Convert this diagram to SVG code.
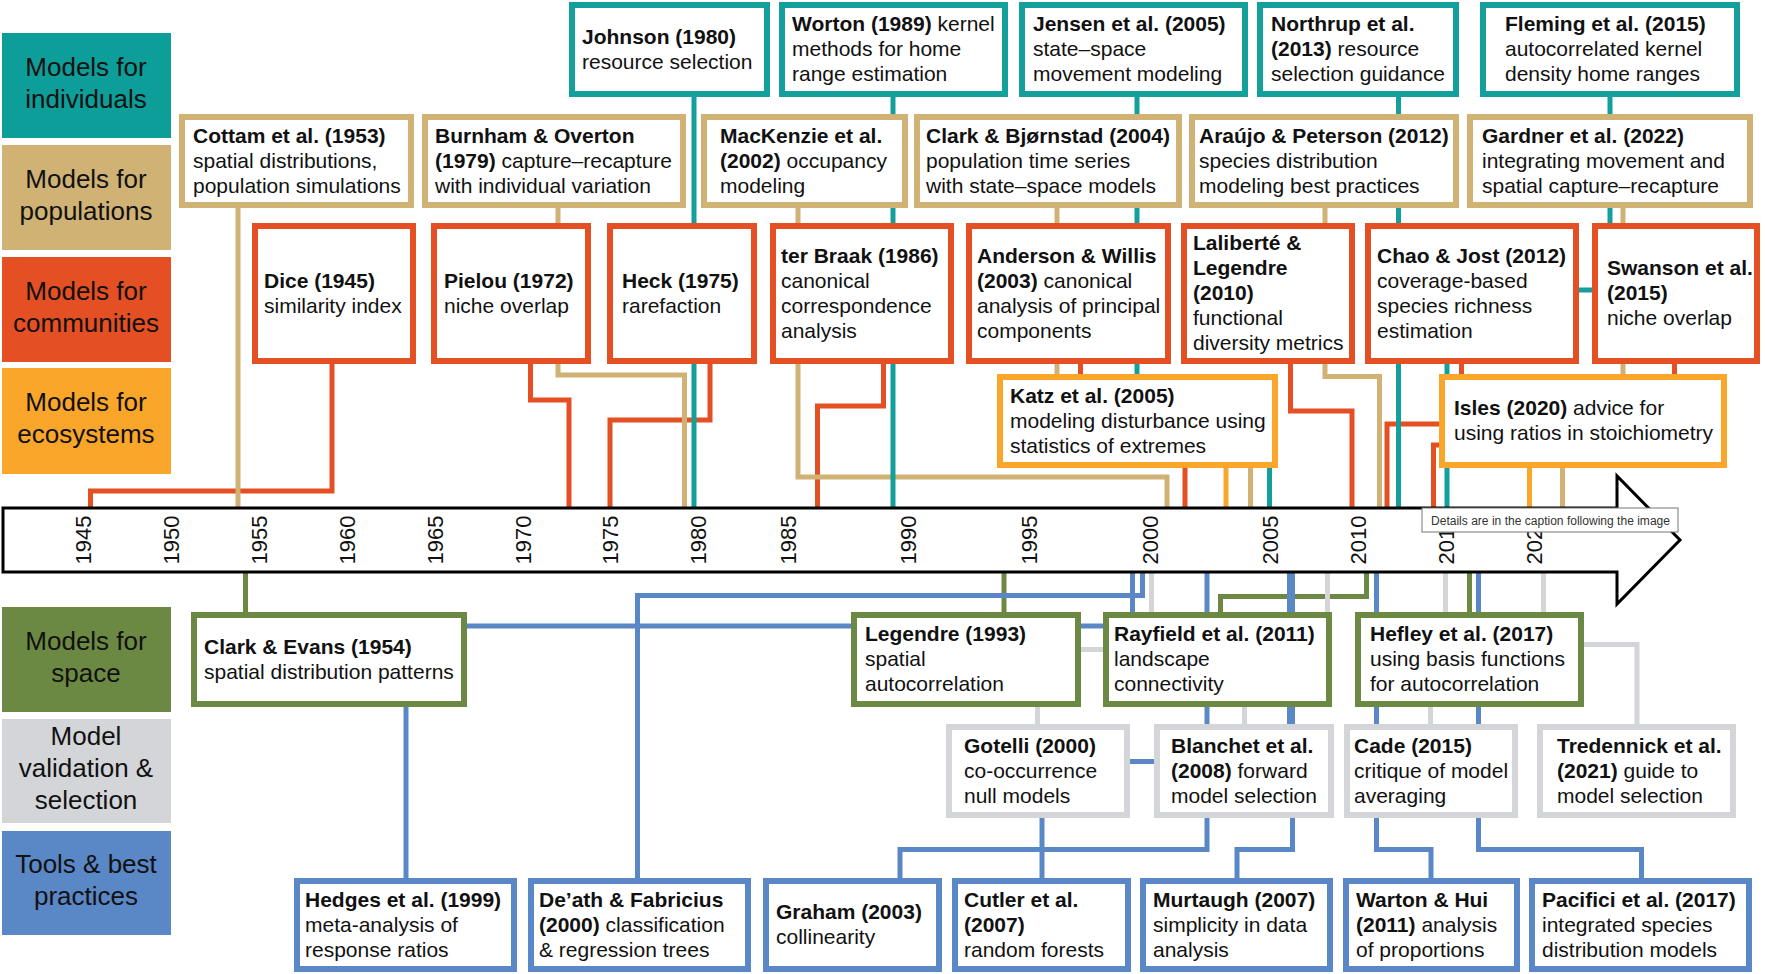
<svg xmlns="http://www.w3.org/2000/svg" width="1765" height="974" viewBox="0 0 1765 974">
<style>
text { font-family: "Liberation Sans", Arial, Helvetica, sans-serif; fill: #111; }
.t { font-size: 21px; }
.b { font-weight: bold; }
.lg { font-size: 26px; text-anchor: middle; }
.yr { font-size: 22px; text-anchor: middle; }
.n rect { fill: #fff; stroke-width: 6; }
.teal rect { stroke: #13A09C; }
.tan rect { stroke: #CFB274; }
.red rect { stroke: #E44F23; }
.org rect { stroke: #F9A62B; }
.grn rect { stroke: #6C8943; }
.gry rect { stroke: #D4D5D9; }
.blu rect { stroke: #5A87C5; }
#connectors path { fill: none; stroke-width: 5; stroke-linejoin: miter; }
.kteal { stroke: #13A09C; }
.ktan { stroke: #CFB274; }
.kred { stroke: #E44F23; }
.korg { stroke: #F9A62B; }
.kgrn { stroke: #6C8943; }
.kgry { stroke: #D4D5D9; }
.kblu { stroke: #5A87C5; }
</style>
<rect x="0" y="0" width="1765" height="974" fill="#fff"/>

<g id="legend">
  <g id="leg-individuals"><rect x="2" y="33" width="169" height="105" fill="#0E9E9A"/><text class="lg"><tspan x="86" y="75.5">Models for</tspan><tspan x="86" y="107.5">individuals</tspan></text></g>
  <g id="leg-populations"><rect x="2" y="145" width="169" height="105" fill="#CFB274"/><text class="lg"><tspan x="86" y="187.5">Models for</tspan><tspan x="86" y="219.5">populations</tspan></text></g>
  <g id="leg-communities"><rect x="2" y="257" width="169" height="105" fill="#E44F23"/><text class="lg"><tspan x="86" y="299.5">Models for</tspan><tspan x="86" y="331.5">communities</tspan></text></g>
  <g id="leg-ecosystems"><rect x="2" y="368" width="169" height="106" fill="#F9A62B"/><text class="lg"><tspan x="86" y="411">Models for</tspan><tspan x="86" y="443">ecosystems</tspan></text></g>
  <g id="leg-space"><rect x="2" y="607" width="169" height="105" fill="#6C8943"/><text class="lg"><tspan x="86" y="649.5">Models for</tspan><tspan x="86" y="681.5">space</tspan></text></g>
  <g id="leg-validation"><rect x="2" y="719" width="169" height="104" fill="#D4D5D9"/><text class="lg"><tspan x="86" y="745">Model</tspan><tspan x="86" y="777">validation &amp;</tspan><tspan x="86" y="809">selection</tspan></text></g>
  <g id="leg-tools"><rect x="2" y="831" width="169" height="104" fill="#5A87C5"/><text class="lg"><tspan x="86" y="873">Tools &amp; best</tspan><tspan x="86" y="905">practices</tspan></text></g>
</g>

<g id="connectors">
  <path class="kred" d="M332 364 V491 H90.5 V508"/>
  <path class="kred" d="M530.5 364 V400 H569 V508"/>
  <path class="kred" d="M710 364 V420 H610 V508"/>
  <path class="kred" d="M883.5 364 V406 H817.5 V508"/>
  <path class="kred" d="M1080.5 364 V440 H1185 V508"/>
  <path class="kred" d="M1290.5 364 V411 H1352 V508"/>
  <path class="kred" d="M1461.5 364 V424 H1387 V508"/>
  <path class="kred" d="M1674.5 364 V445 H1433.5 V508"/>
  <path class="ktan" d="M238 208 V508"/>
  <path class="ktan" d="M558 208 V375 H684.5 V508"/>
  <path class="ktan" d="M798 208 V477 H1167 V508"/>
  <path class="ktan" d="M1057 208 V425 H1250.5 V508"/>
  <path class="ktan" d="M1325 208 V376.5 H1379.5 V508"/>
  <path class="ktan" d="M1623 208 V420 H1562.5 V508"/>
  <path class="kteal" d="M694 97 V508"/>
  <path class="kteal" d="M893 97 V508"/>
  <path class="kteal" d="M1137 97 V410 H1269.5 V508"/>
  <path class="kteal" d="M1398.5 97 V508"/>
  <path class="kteal" d="M1610 97 V290 H1447 V508"/>
  <path class="korg" d="M1226 468 V508"/>
  <path class="korg" d="M1529.5 468 V508"/>
  <path class="kgrn" d="M245.5 572 V612"/>
  <path class="kgrn" d="M1004 572 V612"/>
  <path class="kgrn" d="M1366.5 572 V596.5 H1220.5 V612"/>
  <path class="kgrn" d="M1469.5 572 V612"/>
  <path class="kgry" d="M1151.5 572 V649.5 H1037.5 V724"/>
  <path class="kgry" d="M1327.5 572 V680 H1244.5 V724"/>
  <path class="kgry" d="M1445.5 572 V660 H1430.5 V724"/>
  <path class="kgry" d="M1543.5 572 V644.5 H1637 V724"/>
  <path class="kblu" d="M1132.5 572 V626 H406 V878"/>
  <path class="kblu" d="M1142.5 572 V595.5 H637.5 V878"/>
  <path class="kblu" d="M1207 572 V849.5 H900 V878"/>
  <path class="kblu" d="M1289.5 572 V761.5 H1042 V878"/>
  <path class="kblu" d="M1292.5 572 V849.5 H1237 V878"/>
  <path class="kblu" d="M1376.5 572 V849.5 H1431 V878"/>
  <path class="kblu" d="M1478.5 572 V849.5 H1641.5 V878"/>
</g>

<g id="timeline">
  <polygon points="3,508 1617,508 1617,476 1680,540 1617,604 1617,572 3,572" fill="#fff" stroke="#000" stroke-width="3"/>
  <g class="yr">
    <text class="yr" transform="translate(91,540) rotate(-90)">1945</text>
    <text class="yr" transform="translate(179,540) rotate(-90)">1950</text>
    <text class="yr" transform="translate(267,540) rotate(-90)">1955</text>
    <text class="yr" transform="translate(355,540) rotate(-90)">1960</text>
    <text class="yr" transform="translate(443,540) rotate(-90)">1965</text>
    <text class="yr" transform="translate(531,540) rotate(-90)">1970</text>
    <text class="yr" transform="translate(618,540) rotate(-90)">1975</text>
    <text class="yr" transform="translate(706,540) rotate(-90)">1980</text>
    <text class="yr" transform="translate(796,540) rotate(-90)">1985</text>
    <text class="yr" transform="translate(916,540) rotate(-90)">1990</text>
    <text class="yr" transform="translate(1037,540) rotate(-90)">1995</text>
    <text class="yr" transform="translate(1158,540) rotate(-90)">2000</text>
    <text class="yr" transform="translate(1278,540) rotate(-90)">2005</text>
    <text class="yr" transform="translate(1366,540) rotate(-90)">2010</text>
    <text class="yr" transform="translate(1454,540) rotate(-90)">2015</text>
    <text class="yr" transform="translate(1542,540) rotate(-90)">2020</text>
  </g>
  <g id="tooltip">
    <rect x="1422" y="508" width="256" height="24" fill="#fff" stroke="#767676" stroke-width="1"/>
    <text x="1431" y="525" font-size="12" textLength="239" lengthAdjust="spacingAndGlyphs" style="fill:#333">Details are in the caption following the image</text>
  </g>
</g>

<!-- individuals -->
<g id="johnson" class="n teal"><rect x="572" y="5" width="195" height="89"/><text class="t"><tspan x="582" y="43.5" class="b">Johnson (1980)</tspan><tspan x="582" y="68.5">resource selection</tspan></text></g>
<g id="worton" class="n teal"><rect x="782" y="5" width="223" height="89"/><text class="t"><tspan x="792" y="31"><tspan class="b">Worton (1989)</tspan> kernel</tspan><tspan x="792" y="56">methods for home</tspan><tspan x="792" y="81">range estimation</tspan></text></g>
<g id="jensen" class="n teal"><rect x="1022" y="5" width="223" height="89"/><text class="t"><tspan x="1033" y="31" class="b">Jensen et al. (2005)</tspan><tspan x="1033" y="56">state–space</tspan><tspan x="1033" y="81">movement modeling</tspan></text></g>
<g id="northrup" class="n teal"><rect x="1260" y="5" width="196" height="89"/><text class="t"><tspan x="1271" y="31" class="b">Northrup et al.</tspan><tspan x="1271" y="56"><tspan class="b">(2013)</tspan> resource</tspan><tspan x="1271" y="81">selection guidance</tspan></text></g>
<g id="fleming" class="n teal"><rect x="1483" y="5" width="254" height="89"/><text class="t"><tspan x="1505" y="31" class="b">Fleming et al. (2015)</tspan><tspan x="1505" y="56">autocorrelated kernel</tspan><tspan x="1505" y="81">density home ranges</tspan></text></g>

<!-- populations -->
<g id="cottam" class="n tan"><rect x="182" y="117" width="229" height="88"/><text class="t"><tspan x="193" y="142.5" class="b">Cottam et al. (1953)</tspan><tspan x="193" y="167.5">spatial distributions,</tspan><tspan x="193" y="192.5">population simulations</tspan></text></g>
<g id="burnham" class="n tan"><rect x="425" y="117" width="258" height="88"/><text class="t"><tspan x="435" y="142.5" class="b">Burnham &amp; Overton</tspan><tspan x="435" y="167.5"><tspan class="b">(1979)</tspan> capture–recapture</tspan><tspan x="435" y="192.5">with individual variation</tspan></text></g>
<g id="mackenzie" class="n tan"><rect x="704" y="117" width="201" height="88"/><text class="t"><tspan x="720" y="142.5" class="b">MacKenzie et al.</tspan><tspan x="720" y="167.5"><tspan class="b">(2002)</tspan> occupancy</tspan><tspan x="720" y="192.5">modeling</tspan></text></g>
<g id="clark-bjornstad" class="n tan"><rect x="917" y="117" width="262" height="88"/><text class="t"><tspan x="926" y="142.5" class="b">Clark &amp; Bjørnstad (2004)</tspan><tspan x="926" y="167.5">population time series</tspan><tspan x="926" y="192.5">with state–space models</tspan></text></g>
<g id="araujo" class="n tan"><rect x="1192" y="117" width="264" height="88"/><text class="t"><tspan x="1199" y="142.5" class="b">Araújo &amp; Peterson (2012)</tspan><tspan x="1199" y="167.5">species distribution</tspan><tspan x="1199" y="192.5">modeling best practices</tspan></text></g>
<g id="gardner" class="n tan"><rect x="1470" y="117" width="280" height="88"/><text class="t"><tspan x="1482" y="142.5" class="b">Gardner et al. (2022)</tspan><tspan x="1482" y="167.5">integrating movement and</tspan><tspan x="1482" y="192.5">spatial capture–recapture</tspan></text></g>

<!-- communities -->
<g id="dice" class="n red"><rect x="255" y="226" width="158" height="135"/><text class="t"><tspan x="264" y="287.5" class="b">Dice (1945)</tspan><tspan x="264" y="312.5">similarity index</tspan></text></g>
<g id="pielou" class="n red"><rect x="434" y="226" width="154" height="135"/><text class="t"><tspan x="444" y="287.5" class="b">Pielou (1972)</tspan><tspan x="444" y="312.5">niche overlap</tspan></text></g>
<g id="heck" class="n red"><rect x="610" y="226" width="144" height="135"/><text class="t"><tspan x="622" y="287.5" class="b">Heck (1975)</tspan><tspan x="622" y="312.5">rarefaction</tspan></text></g>
<g id="terbraak" class="n red"><rect x="773" y="226" width="178" height="135"/><text class="t"><tspan x="781" y="262.5" class="b">ter Braak (1986)</tspan><tspan x="781" y="287.5">canonical</tspan><tspan x="781" y="312.5">correspondence</tspan><tspan x="781" y="337.5">analysis</tspan></text></g>
<g id="anderson" class="n red"><rect x="969" y="226" width="199" height="135"/><text class="t"><tspan x="977" y="262.5" class="b">Anderson &amp; Willis</tspan><tspan x="977" y="287.5"><tspan class="b">(2003)</tspan> canonical</tspan><tspan x="977" y="312.5">analysis of principal</tspan><tspan x="977" y="337.5">components</tspan></text></g>
<g id="laliberte" class="n red"><rect x="1184" y="226" width="168" height="135"/><text class="t"><tspan x="1193" y="250" class="b">Laliberté &amp;</tspan><tspan x="1193" y="275" class="b">Legendre</tspan><tspan x="1193" y="300" class="b">(2010)</tspan><tspan x="1193" y="325">functional</tspan><tspan x="1193" y="350">diversity metrics</tspan></text></g>
<g id="chao" class="n red"><rect x="1368" y="226" width="208" height="135"/><text class="t"><tspan x="1377" y="262.5" class="b">Chao &amp; Jost (2012)</tspan><tspan x="1377" y="287.5">coverage-based</tspan><tspan x="1377" y="312.5">species richness</tspan><tspan x="1377" y="337.5">estimation</tspan></text></g>
<g id="swanson" class="n red"><rect x="1595" y="226" width="162" height="135"/><text class="t"><tspan x="1607" y="275" class="b">Swanson et al.</tspan><tspan x="1607" y="300" class="b">(2015)</tspan><tspan x="1607" y="325">niche overlap</tspan></text></g>

<!-- ecosystems -->
<g id="katz" class="n org"><rect x="1000" y="377" width="275" height="88"/><text class="t"><tspan x="1010" y="402.5" class="b">Katz et al. (2005)</tspan><tspan x="1010" y="427.5">modeling disturbance using</tspan><tspan x="1010" y="452.5">statistics of extremes</tspan></text></g>
<g id="isles" class="n org"><rect x="1442" y="377" width="282" height="88"/><text class="t"><tspan x="1454" y="415"><tspan class="b">Isles (2020)</tspan> advice for</tspan><tspan x="1454" y="440">using ratios in stoichiometry</tspan></text></g>

<!-- space -->
<g id="clark-evans" class="n grn"><rect x="194" y="615" width="270" height="89"/><text class="t"><tspan x="204" y="653.5" class="b">Clark &amp; Evans (1954)</tspan><tspan x="204" y="678.5">spatial distribution patterns</tspan></text></g>
<g id="legendre" class="n grn"><rect x="854" y="615" width="224" height="89"/><text class="t"><tspan x="865" y="641" class="b">Legendre (1993)</tspan><tspan x="865" y="666">spatial</tspan><tspan x="865" y="691">autocorrelation</tspan></text></g>
<g id="rayfield" class="n grn"><rect x="1106" y="615" width="223" height="89"/><text class="t"><tspan x="1114" y="641" class="b">Rayfield et al. (2011)</tspan><tspan x="1114" y="666">landscape</tspan><tspan x="1114" y="691">connectivity</tspan></text></g>
<g id="hefley" class="n grn"><rect x="1358" y="615" width="223" height="89"/><text class="t"><tspan x="1370" y="641" class="b">Hefley et al. (2017)</tspan><tspan x="1370" y="666">using basis functions</tspan><tspan x="1370" y="691">for autocorrelation</tspan></text></g>

<!-- validation -->
<g id="gotelli" class="n gry"><rect x="949" y="727" width="178" height="88"/><text class="t"><tspan x="964" y="752.5" class="b">Gotelli (2000)</tspan><tspan x="964" y="777.5">co-occurrence</tspan><tspan x="964" y="802.5">null models</tspan></text></g>
<g id="blanchet" class="n gry"><rect x="1157" y="727" width="174" height="88"/><text class="t"><tspan x="1171" y="752.5" class="b">Blanchet et al.</tspan><tspan x="1171" y="777.5"><tspan class="b">(2008)</tspan> forward</tspan><tspan x="1171" y="802.5">model selection</tspan></text></g>
<g id="cade" class="n gry"><rect x="1347" y="727" width="168" height="88"/><text class="t"><tspan x="1354" y="752.5" class="b">Cade (2015)</tspan><tspan x="1354" y="777.5">critique of model</tspan><tspan x="1354" y="802.5">averaging</tspan></text></g>
<g id="tredennick" class="n gry"><rect x="1540" y="727" width="193" height="88"/><text class="t"><tspan x="1557" y="752.5" class="b">Tredennick et al.</tspan><tspan x="1557" y="777.5"><tspan class="b">(2021)</tspan> guide to</tspan><tspan x="1557" y="802.5">model selection</tspan></text></g>

<!-- tools -->
<g id="hedges" class="n blu"><rect x="297" y="881" width="217" height="88"/><text class="t"><tspan x="305" y="906.5" class="b">Hedges et al. (1999)</tspan><tspan x="305" y="931.5">meta-analysis of</tspan><tspan x="305" y="956.5">response ratios</tspan></text></g>
<g id="death" class="n blu"><rect x="531" y="881" width="217" height="88"/><text class="t"><tspan x="539" y="906.5" class="b">De’ath &amp; Fabricius</tspan><tspan x="539" y="931.5"><tspan class="b">(2000)</tspan> classification</tspan><tspan x="539" y="956.5">&amp; regression trees</tspan></text></g>
<g id="graham" class="n blu"><rect x="766" y="881" width="173" height="88"/><text class="t"><tspan x="776" y="919" class="b">Graham (2003)</tspan><tspan x="776" y="944">collinearity</tspan></text></g>
<g id="cutler" class="n blu"><rect x="955" y="881" width="173" height="88"/><text class="t"><tspan x="964" y="906.5" class="b">Cutler et al.</tspan><tspan x="964" y="931.5" class="b">(2007)</tspan><tspan x="964" y="956.5">random forests</tspan></text></g>
<g id="murtaugh" class="n blu"><rect x="1143" y="881" width="187" height="88"/><text class="t"><tspan x="1153" y="906.5" class="b">Murtaugh (2007)</tspan><tspan x="1153" y="931.5">simplicity in data</tspan><tspan x="1153" y="956.5">analysis</tspan></text></g>
<g id="warton" class="n blu"><rect x="1346" y="881" width="171" height="88"/><text class="t"><tspan x="1356" y="906.5" class="b">Warton &amp; Hui</tspan><tspan x="1356" y="931.5"><tspan class="b">(2011)</tspan> analysis</tspan><tspan x="1356" y="956.5">of proportions</tspan></text></g>
<g id="pacifici" class="n blu"><rect x="1532" y="881" width="217" height="88"/><text class="t"><tspan x="1542" y="906.5" class="b">Pacifici et al. (2017)</tspan><tspan x="1542" y="931.5">integrated species</tspan><tspan x="1542" y="956.5">distribution models</tspan></text></g>
</svg>
